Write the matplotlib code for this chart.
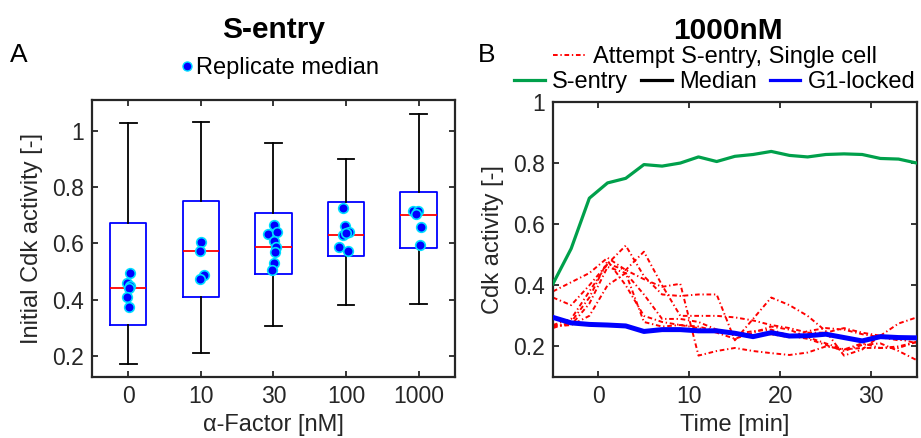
import matplotlib
matplotlib.use("Agg")
import matplotlib.pyplot as plt
from matplotlib.lines import Line2D
from matplotlib.ticker import FuncFormatter

plt.rcParams["font.family"] = ["Liberation Sans", "DejaVu Sans"]

# ---------------- Panel A: initial Cdk activity per alpha-factor dose ----------------
conc_labels = ["0", "10", "30", "100", "1000"]
box_q1 = [0.310, 0.411, 0.492, 0.554, 0.583]
box_med = [0.440, 0.575, 0.587, 0.629, 0.703]
box_q3 = [0.673, 0.751, 0.710, 0.748, 0.783]
whisker_lo = [0.170, 0.210, 0.307, 0.381, 0.383]
whisker_hi = [1.030, 1.033, 0.956, 0.900, 1.060]

rep_0nM = [0.495, 0.460, 0.450, 0.440, 0.410, 0.375]
rep_10nM = [0.605, 0.575, 0.488, 0.475]
rep_30nM = [0.665, 0.635, 0.640, 0.610, 0.587, 0.570, 0.530, 0.505]
rep_100nM = [0.727, 0.664, 0.640, 0.629, 0.587, 0.575, 0.637]
rep_1000nM = [0.716, 0.716, 0.706, 0.658, 0.593]
replicates = [rep_0nM, rep_10nM, rep_30nM, rep_100nM, rep_1000nM]

# horizontal spread of the replicate dots around each box centre
jitter = [
    [0.023, -0.023, 0.023, 0.014, -0.018, 0.014],
    [0.0, -0.009, 0.041, -0.009],
    [0.009, -0.069, 0.046, 0.009, 0.037, 0.028, 0.009, -0.023],
    [-0.037, -0.009, 0.037, -0.046, -0.092, 0.023, 0.005],
    [-0.083, -0.014, -0.037, 0.032, 0.018],
]

# ---------------- Panel B: Cdk activity traces at 1000 nM ----------------
time_min = [-5, -3, -1, 1, 3, 5, 7, 9, 11, 13, 15, 17, 19, 21, 23, 25, 27, 29, 31, 33, 35]
s_entry = [0.405, 0.52, 0.685, 0.735, 0.75, 0.795, 0.79, 0.80, 0.82, 0.805, 0.822,
           0.828, 0.838, 0.825, 0.82, 0.828, 0.83, 0.828, 0.815, 0.813, 0.80]
g1_locked = [0.295, 0.277, 0.272, 0.270, 0.267, 0.249, 0.255, 0.255, 0.251, 0.251, 0.243,
             0.232, 0.245, 0.234, 0.235, 0.240, 0.229, 0.218, 0.232, 0.229, 0.228]
attempt_1 = [0.38, 0.41, 0.44, 0.49, 0.45, 0.42, 0.395, 0.405, 0.17, 0.185, 0.195,
             0.185, 0.178, 0.172, 0.18, 0.20, 0.19, 0.195, 0.195, 0.20, 0.215]
attempt_2 = [0.36, 0.335, 0.40, 0.47, 0.53, 0.43, 0.37, 0.365, 0.37, 0.37, 0.22,
             0.29, 0.36, 0.335, 0.30, 0.25, 0.17, 0.19, 0.235, 0.275, 0.295]
attempt_3 = [0.27, 0.29, 0.38, 0.47, 0.45, 0.51, 0.40, 0.30, 0.30, 0.30, 0.295,
             0.285, 0.27, 0.26, 0.245, 0.245, 0.26, 0.245, 0.235, 0.225, 0.21]
attempt_4 = [0.26, 0.28, 0.36, 0.48, 0.40, 0.30, 0.28, 0.27, 0.26, 0.245, 0.225,
             0.245, 0.265, 0.255, 0.23, 0.21, 0.19, 0.21, 0.195, 0.195, 0.215]
attempt_5 = [0.265, 0.27, 0.34, 0.46, 0.44, 0.37, 0.29, 0.29, 0.28, 0.255, 0.24,
             0.25, 0.255, 0.235, 0.225, 0.205, 0.185, 0.205, 0.21, 0.185, 0.155]
attempt_6 = [0.27, 0.27, 0.30, 0.40, 0.44, 0.28, 0.265, 0.27, 0.265, 0.25, 0.24,
             0.235, 0.24, 0.23, 0.25, 0.26, 0.255, 0.24, 0.23, 0.22, 0.23]
attempts = [attempt_1, attempt_2, attempt_3, attempt_4, attempt_5, attempt_6]

# ---------------- styling ----------------
DARK = "#262626"
TICK_FS = 16.5
LABEL_FS = 17
LEG_FS = 17
TITLE_FS = 21.5
fmt = FuncFormatter(lambda v, p: "%g" % round(v, 3))


def style_axes(ax):
    for sp in ax.spines.values():
        sp.set_color(DARK)
        sp.set_linewidth(1.6)
    ax.tick_params(direction="in", length=4, width=1.3, colors=DARK,
                   labelsize=TICK_FS, top=True, right=True, pad=6)
    ax.yaxis.set_major_formatter(fmt)


fig = plt.figure(figsize=(9.21, 4.38), dpi=100)

# ---- Panel A ----
axA = fig.add_axes([0.0999, 0.1393, 0.394, 0.632])
positions = list(range(1, len(conc_labels) + 1))
stats = []
for i in range(len(conc_labels)):
    stats.append(dict(med=box_med[i], q1=box_q1[i], q3=box_q3[i],
                      whislo=whisker_lo[i], whishi=whisker_hi[i], fliers=[]))
axA.bxp(stats, positions=positions, widths=0.5, capwidths=0.23, showfliers=False,
        boxprops=dict(color="#0000FF", linewidth=1.3),
        medianprops=dict(color="#FF0000", linewidth=1.3),
        whiskerprops=dict(color="black", linewidth=1.3),
        capprops=dict(color="black", linewidth=1.3))
for pos, vals, jit in zip(positions, replicates, jitter):
    xs = [pos + j for j in jit]
    axA.scatter(xs, vals, s=48, facecolor="#0000FF", edgecolor="#00DDFF",
                linewidth=1.2, zorder=5)
axA.set_xlim(0.5, 5.5)
axA.set_ylim(0.125, 1.11)
axA.set_xticks(positions)
axA.set_xticklabels(conc_labels)
axA.set_yticks([0.2, 0.4, 0.6, 0.8, 1.0])
style_axes(axA)
axA.set_xlabel("α-Factor [nM]", fontsize=LABEL_FS, color=DARK, labelpad=4)
axA.set_ylabel("Initial Cdk activity [-]", fontsize=LABEL_FS, color=DARK, labelpad=6)

# ---- Panel B ----
axB = fig.add_axes([0.6004, 0.1393, 0.395, 0.628])
dashdot = (0, (2.4, 1.4, 0.7, 1.4))
for tr in attempts:
    axB.plot(time_min, tr, color="#FF0000", linestyle=dashdot, linewidth=1.4, zorder=2)
axB.plot(time_min, s_entry, color="#00A04B", linewidth=2.3, zorder=3)
axB.plot(time_min, g1_locked, color="#0000FF", linewidth=3.6, zorder=4)
axB.set_xlim(-5, 35)
axB.set_ylim(0.1, 1.0)
axB.set_xticks([0, 10, 20, 30])
axB.set_yticks([0.2, 0.4, 0.6, 0.8, 1.0])
style_axes(axB)
axB.set_xlabel("Time [min]", fontsize=LABEL_FS, color=DARK, labelpad=4)
axB.set_ylabel("Cdk activity [-]", fontsize=LABEL_FS, color=DARK, labelpad=6)

# ---- titles and panel letters ----
fig.text(0.2967, 0.9132, "S-entry", fontsize=TITLE_FS, fontweight="bold",
         ha="center", va="baseline")
fig.text(0.790, 0.911, "1000nM", fontsize=TITLE_FS, fontweight="bold",
         ha="center", va="baseline")
fig.text(0.011, 0.859, "A", fontsize=19, ha="left", va="baseline")
fig.text(0.519, 0.859, "B", fontsize=19, ha="left", va="baseline")

# ---- legends ----
h_rep = Line2D([], [], linestyle="none", marker="o", markersize=6.5,
               markerfacecolor="#0000FF", markeredgecolor="#00DDFF", markeredgewidth=1.0)
fig.legend([h_rep], ["Replicate median"], loc="center", bbox_to_anchor=(0.304, 0.845),
           frameon=False, fontsize=LEG_FS, handlelength=0.5, handletextpad=0.15,
           borderpad=0.1)

h_att = Line2D([], [], color="#FF0000", linestyle=dashdot, linewidth=1.4)
fig.legend([h_att], ["Attempt S-entry, Single cell"], loc="center",
           bbox_to_anchor=(0.776, 0.870), frameon=False, fontsize=LEG_FS,
           handlelength=1.4, handletextpad=0.3, borderpad=0.1)

h_s = Line2D([], [], color="#00A04B", linewidth=2.3)
h_med = Line2D([], [], color="black", linewidth=2.3)
h_g1 = Line2D([], [], color="#0000FF", linewidth=2.3)
fig.legend([h_s, h_med, h_g1], ["S-entry", "Median", "G1-locked"], loc="center",
           bbox_to_anchor=(0.776, 0.813), frameon=False, fontsize=LEG_FS, ncol=3,
           handlelength=1.3, handletextpad=0.3, columnspacing=0.55, borderpad=0.1)

fig.savefig("out.png", dpi=100)
